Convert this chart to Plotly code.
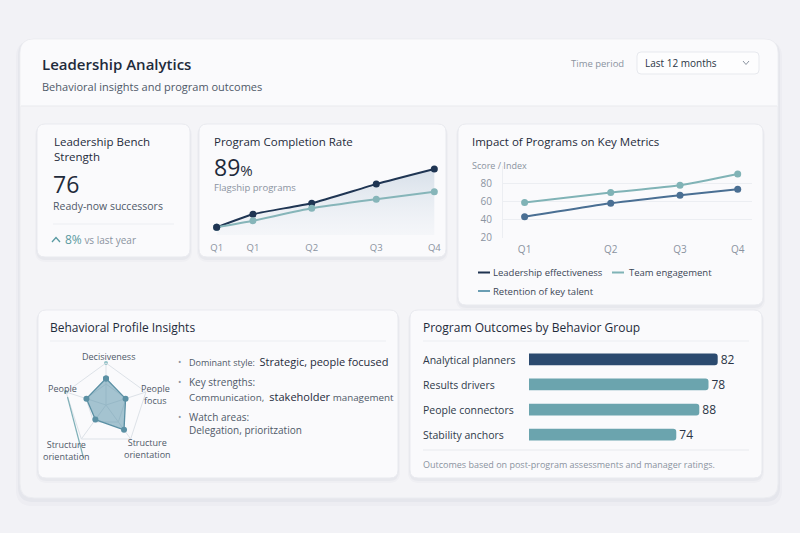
import plotly.graph_objects as go

W, H = 800, 533
FONT = "Open Sans"

# ---------------- data ----------------
completion_quarters = ["Q1", "Q1", "Q2", "Q3", "Q4"]
completion_pos = [0, 0.5, 1.31, 2.2, 3.0]
completion_flagship = [60, 66.5, 72, 81.5, 89]
completion_other = [60, 63.3, 69.5, 74, 77.7]

impact_quarters = ["Q1", "Q2", "Q3", "Q4"]
impact_pos = [1, 2, 2.805, 3.475]
leadership_effectiveness = [43, 58, 67, 73.5]
team_engagement = [59, 70, 78, 90.5]
impact_ticks = [20, 40, 60, 80, 100]
impact_tick_text = ["20", "40", "60", "80", ""]

radar_axes = ["Decisiveness", "People focus", "Structure orientation", "Structure orientation ", "People"]
radar_values = [63, 49, 73, 43, 49]

groups = ["Analytical planners", "Results drivers", "People connectors", "Stability anchors"]
group_bar = [82, 78, 74, 64]
group_label = ["82", "78", "88", "74"]
group_colors = ["#2b4a6f", "#6ba4ae", "#6ba4ae", "#6ba4ae"]


def px(x):
    return x / W


def py(y):
    return 1 - y / H


def rrect(x0, y0, x1, y1, r, fill, line=None, lw=0):
    rx, ry = r / W, r / H
    X0, X1 = px(x0), px(x1)
    YT, YB = py(y0), py(y1)
    path = (f"M {X0+rx},{YT} L {X1-rx},{YT} Q {X1},{YT} {X1},{YT-ry} "
            f"L {X1},{YB+ry} Q {X1},{YB} {X1-rx},{YB} L {X0+rx},{YB} Q {X0},{YB} {X0},{YB+ry} "
            f"L {X0},{YT-ry} Q {X0},{YT} {X0+rx},{YT} Z")
    return dict(type="path", xref="paper", yref="paper", path=path, fillcolor=fill,
                line=dict(color=line or "rgba(0,0,0,0)", width=lw), layer="below")


def hline(x0, x1, y, color="#e6e8ed", width=1):
    return dict(type="line", xref="paper", yref="paper", x0=px(x0), x1=px(x1), y0=py(y), y1=py(y),
                line=dict(color=color, width=width), layer="below")


def seg(x0, y0, x1, y1, color, width=1):
    return dict(type="line", xref="paper", yref="paper", x0=px(x0), x1=px(x1), y0=py(y0), y1=py(y1),
                line=dict(color=color, width=width), layer="above")


def txt(t, x, y, size, color="#1f2b3b", weight=400, xanchor="left"):
    return dict(text=t, x=px(x - (1 if xanchor == "left" else 0)), y=py(y), xref="paper", yref="paper",
                xanchor=xanchor, yanchor="middle", align=xanchor, showarrow=False, borderpad=0,
                font=dict(size=size, color=color, family=FONT, weight=weight))


def card(x0, y0, x1, y1, r=8, fill="#fafafc"):
    return [
        rrect(x0 - 2, y0 + 1, x1 + 2, y1 + 5, r + 3, "rgba(40,50,90,0.025)"),
        rrect(x0 - 1, y0 + 1, x1 + 1, y1 + 3, r + 2, "rgba(40,50,90,0.035)"),
        rrect(x0, y0, x1, y1, r, fill, "#e9eaef", 1),
    ]


DARK = "#1f2b3b"
MID = "#4f5968"
LIGHT = "#8a93a0"

shapes = []
# outer panel with shadow
shapes += [
    rrect(16, 41, 782, 506, 16, "rgba(40,50,90,0.025)"),
    rrect(18, 40, 780, 502, 15, "rgba(40,50,90,0.035)"),
    rrect(20, 39, 778, 498, 14, "#f4f4f7", "#ebecf0", 1),
]
# header area (lighter)
shapes.append(dict(type="path", xref="paper", yref="paper", layer="below",
                   path=(f"M {px(34)},{py(39.5)} L {px(764)},{py(39.5)} Q {px(777.5)},{py(39.5)} {px(777.5)},{py(53)} "
                         f"L {px(777.5)},{py(106)} L {px(20.5)},{py(106)} L {px(20.5)},{py(53)} "
                         f"Q {px(20.5)},{py(39.5)} {px(34)},{py(39.5)} Z"),
                   fillcolor="#fafafc", line=dict(color="rgba(0,0,0,0)", width=0)))
shapes.append(hline(21, 777, 106, "#e9eaee"))
# dropdown
shapes.append(rrect(637, 52, 759, 74, 4, "#fdfdfe", "#e7e9ee", 1))
shapes.append(dict(type="path", xref="paper", yref="paper", layer="above",
                   path=f"M {px(743)},{py(61)} L {px(746)},{py(64.5)} L {px(749)},{py(61)}",
                   line=dict(color="#8a93a0", width=1)))

# cards
shapes += card(37, 124, 190, 257)
shapes += card(199, 124, 446, 257)
shapes += card(458, 124, 763, 305)
shapes += card(38, 310, 398, 478)
shapes += card(410, 310, 762, 478)

# dividers
shapes.append(hline(53, 174, 224, "#eceef2"))
shapes.append(hline(50, 386, 341, "#eceef2"))
shapes.append(hline(423, 749, 341, "#eceef2"))
shapes.append(hline(423, 749, 450, "#e8eaee"))

# up chevron
shapes.append(dict(type="path", xref="paper", yref="paper", layer="above",
                   path=f"M {px(52)},{py(242)} L {px(56)},{py(237.5)} L {px(60)},{py(242)}",
                   line=dict(color="#5a9aa2", width=1.3)))

# legend swatches (impact chart)
shapes.append(seg(478, 272.5, 490, 272.5, "#1f3350", 2))
shapes.append(seg(612, 272.5, 624, 272.5, "#7fb3b6", 2))
shapes.append(seg(478, 291, 490, 291, "#6a9db3", 2))

# stray radar line
shapes.append(seg(67.5, 397, 83.5, 458, "#7fb0b8", 1.2))

annotations = [
    txt("Leadership Analytics", 42, 64, 15, DARK, 600),
    txt("Behavioral insights and program outcomes", 42, 87, 11, MID),
    txt("Time period", 571, 63, 9.5, LIGHT),
    txt("Last 12 months", 645, 63, 10, "#2a3545"),
    # card 1
    txt("Leadership Bench<br>Strength", 54, 148.5, 11.5, DARK, 500),
    txt("76", 53, 184, 23, DARK),
    txt("Ready-now successors", 53, 206, 10.5, MID),
    txt("<span style='color:#5a9aa2;font-size:12px'>8%</span> vs last year", 65, 239, 10, LIGHT),
    # card 2
    txt("Program Completion Rate", 214, 141.5, 11.5, DARK, 500),
    txt("89<span style='font-size:15px'>%</span>", 213.5, 167, 23, DARK),
    txt("Flagship programs", 213.5, 187.5, 9.5, LIGHT),
    # card 3
    txt("Impact of Programs on Key Metrics", 472, 141.5, 11.5, DARK, 500),
    txt("Score / Index", 472, 165, 9, LIGHT),
    txt("Leadership effectiveness", 493, 272.5, 9.5, "#3b4656"),
    txt("Team engagement", 628.5, 272.5, 9.5, "#3b4656"),
    txt("Retention of key talent", 493, 291, 9.5, "#3b4656"),
    # card 4
    txt("Behavioral Profile Insights", 49.5, 327.5, 12, DARK, 500),
    txt("Decisiveness", 108.5, 356.5, 9, MID, xanchor="center"),
    txt("People", 62, 388.5, 9, MID, xanchor="center"),
    txt("People<br>focus", 155, 394, 9, MID, xanchor="center"),
    txt("Structure<br>orientation", 66, 450, 9, MID, xanchor="center"),
    txt("Structure<br>orientation", 147.5, 448.5, 9, MID, xanchor="center"),
    txt("•", 178, 361.5, 9, LIGHT),
    txt("•", 178, 381.5, 9, LIGHT),
    txt("•", 178, 416.5, 9, LIGHT),
    txt("Dominant style:  <span style='font-size:11px;color:#1f2b3b'>Strategic, people focused</span>", 189, 361.5, 9, MID),
    txt("Key strengths:", 189, 381.5, 10, MID),
    txt("Communication,  <span style='font-size:11px;color:#1f2b3b'>stakeholder</span> management", 189, 396, 9.8, MID),
    txt("Watch areas:", 189, 416.5, 10, MID),
    txt("Delegation, prioritzation", 189, 430, 10, MID),
    # card 5
    txt("Program Outcomes by Behavior Group", 423, 327.5, 12, DARK, 500),
    txt("Outcomes based on post-program assessments and manager ratings.", 423, 464.5, 9, LIGHT),
]
for i, g in enumerate(groups):
    annotations.append(txt(g, 423, 359.5 + 25 * i, 10.5, "#2f3a4a"))

fig = go.Figure()

# ---- completion chart ----
fig.add_trace(go.Scatter(
    x=completion_pos, y=completion_flagship, mode="lines+markers", xaxis="x", yaxis="y",
    line=dict(color="#1f3553", width=2, shape="spline", smoothing=0.5),
    marker=dict(size=7, color="#1f3553"), fill="tozeroy",
    fillgradient=dict(type="vertical", start=56, stop=90,
                      colorscale=[[0, "rgba(215,224,233,0.15)"], [1, "rgba(190,205,220,0.6)"]]),
    cliponaxis=False, showlegend=False, hoverinfo="skip"))
fig.add_trace(go.Scatter(
    x=completion_pos, y=completion_other, mode="lines+markers", xaxis="x", yaxis="y",
    line=dict(color="#86b5b9", width=2, shape="spline", smoothing=0.5),
    marker=dict(size=7, color="#86b5b9"), cliponaxis=False, showlegend=False, hoverinfo="skip"))
fig.add_trace(go.Scatter(
    x=completion_pos[:1], y=completion_flagship[:1], mode="markers", xaxis="x", yaxis="y",
    marker=dict(size=7, color="#1f3553"), cliponaxis=False, showlegend=False, hoverinfo="skip"))

# ---- impact chart ----
fig.add_trace(go.Scatter(
    x=impact_pos, y=team_engagement, mode="lines+markers", xaxis="x2", yaxis="y2", name="Team engagement",
    line=dict(color="#80b3b6", width=2, shape="spline", smoothing=0.5),
    marker=dict(size=7, color="#80b3b6"), cliponaxis=False, showlegend=False, hoverinfo="skip"))
fig.add_trace(go.Scatter(
    x=impact_pos, y=leadership_effectiveness, mode="lines+markers", xaxis="x2", yaxis="y2",
    name="Leadership effectiveness",
    line=dict(color="#4a6f93", width=2, shape="spline", smoothing=0.5),
    marker=dict(size=7, color="#4a6f93"), cliponaxis=False, showlegend=False, hoverinfo="skip"))

# ---- radar ----
fig.add_trace(go.Scatterpolar(
    r=radar_values + radar_values[:1], theta=radar_axes + radar_axes[:1], subplot="polar",
    mode="lines+markers", fill="toself", fillcolor="rgba(92,150,172,0.55)",
    line=dict(color="#5b90a4", width=1.3), marker=dict(size=6, color="#5b90a4"),
    showlegend=False, hoverinfo="skip"))
fig.add_trace(go.Scatterpolar(
    r=[100, 100], theta=[radar_axes[0], radar_axes[4]], subplot="polar", mode="markers",
    marker=dict(size=4, color="#8fc0c6"), showlegend=False, hoverinfo="skip"))

# ---- bars ----
fig.add_trace(go.Bar(
    x=group_bar, y=groups, orientation="h", xaxis="x3", yaxis="y3",
    marker=dict(color=group_colors, cornerradius=3, line=dict(width=0)),
    text=group_label, textposition="outside", constraintext="none",
    textfont=dict(size=12, color="#2a3545", family=FONT),
    cliponaxis=False, width=0.47, showlegend=False, hoverinfo="skip"))

bar_px_per_unit = 188.7 / 82

fig.update_layout(
    width=W, height=H, margin=dict(l=0, r=0, t=0, b=0, pad=0, autoexpand=False),
    paper_bgcolor="#f2f2f6", plot_bgcolor="rgba(0,0,0,0)",
    font=dict(family=FONT, color=MID), showlegend=False,
    shapes=shapes, annotations=annotations,
    xaxis=dict(domain=[px(205), px(446)], range=[-0.161, 3.161], anchor="y", tickvals=completion_pos,
               ticktext=completion_quarters, tickfont=dict(size=9.5, color=LIGHT),
               showgrid=False, zeroline=False, showline=False, ticks="", ticklabelstandoff=5,
               automargin=False, fixedrange=True),
    yaxis=dict(domain=[py(235), py(160)], range=[56.17, 93.5], anchor="x", visible=False,
               automargin=False, fixedrange=True),
    xaxis2=dict(domain=[px(503), px(752)], range=[0.749, 3.641], anchor="y2", tickvals=impact_pos,
                ticktext=impact_quarters, tickfont=dict(size=10, color=LIGHT),
                showgrid=False, zeroline=False, showline=False, ticks="", ticklabelstandoff=4,
                automargin=False, fixedrange=True),
    yaxis2=dict(domain=[py(237.5), py(165.5)], range=[20, 100], anchor="x2", tickvals=impact_ticks,
                ticktext=impact_tick_text, tickfont=dict(size=10, color=LIGHT),
                gridcolor="#eceef2", showline=True, linecolor="#eceef2", zeroline=False, ticks="",
                ticklabelstandoff=8, automargin=False, fixedrange=True),
    xaxis3=dict(domain=[px(529), px(760)], range=[0, (760 - 529) / bar_px_per_unit], anchor="y3",
                visible=False, automargin=False, fixedrange=True),
    yaxis3=dict(domain=[py(447), py(347)], autorange="reversed", anchor="x3", visible=False,
                automargin=False, fixedrange=True),
    polar=dict(
        domain=dict(x=[px(64), px(148)], y=[py(447), py(363)]),
        bgcolor="rgba(0,0,0,0)", gridshape="linear",
        radialaxis=dict(range=[0, 100], tickvals=[50, 100], showticklabels=False, showline=False,
                        gridcolor="#dde2e8", ticks=""),
        angularaxis=dict(rotation=90, direction="clockwise", showticklabels=False, ticks="",
                         gridcolor="#dde2e8", linecolor="#dde2e8", categoryorder="array",
                         categoryarray=radar_axes),
    ),
)

fig.write_html("out.html")
